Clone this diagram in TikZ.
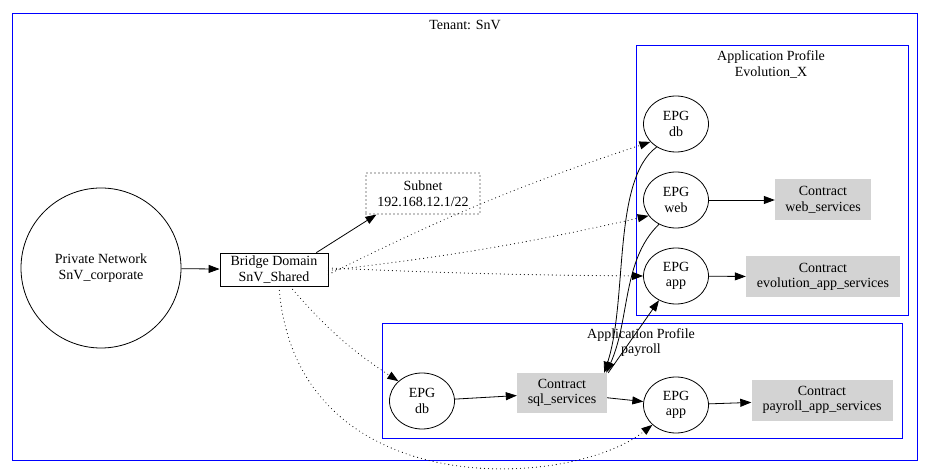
\documentclass[tikz,border=0pt]{standalone}
\usepackage{fontspec}
\setmainfont{Liberation Serif}
\usetikzlibrary{shapes.geometric,arrows.meta}
\definecolor{gvgray}{RGB}{211,211,211}
\begin{document}
\begin{tikzpicture}[x=1pt,y=-1pt,
  every node/.style={font=\fontsize{14}{15.5}\selectfont, align=center, inner sep=0pt},
  cluster/.style={draw=blue, line width=0.8pt, anchor=north west},
  epg/.style={ellipse, draw, line width=0.8pt, minimum width=65pt, minimum height=56pt},
  contract/.style={fill=gvgray, minimum height=41pt},
  boxnode/.style={draw, line width=0.8pt},
  arr/.style={line width=0.8pt, -{Triangle[length=11pt,width=8pt]}},
  darr/.style={arr, line cap=round, dash pattern=on 0pt off 4pt, line width=1.1pt}]
\useasboundingbox (0,0) rectangle (930,473);
% clusters
\node[cluster, minimum width=905pt, minimum height=447pt] (tenant) at (12,13) {};
\node (tenantlbl) at (465,25) {Tenant: SnV};
\node[cluster, minimum width=272pt, minimum height=270pt] (evo) at (636,45) {};
\node (evolbl) at (771,64.5) {Application Profile\\Evolution\_X};
\node[cluster, minimum width=520pt, minimum height=115pt] (pay) at (382,323) {};
\node (paylbl) at (641,342.5) {Application Profile\\payroll};
% nodes
\node[circle, draw, line width=0.8pt, minimum size=160pt] (priv) at (101,268) {Private Network\\SnV\_corporate};
\node[boxnode, minimum width=108pt, minimum height=33pt] (bd) at (274,269.5) {Bridge Domain\\SnV\_Shared};
\node[draw, line cap=round, dash pattern=on 0pt off 4pt, line width=1.1pt, minimum width=114pt, minimum height=41pt] (subnet) at (423,193.5) {Subnet\\192.168.12.1/22};
\node[epg] (evodb) at (676,124) {EPG\\db};
\node[epg] (evoweb) at (676,200) {EPG\\web};
\node[epg] (evoapp) at (676,276) {EPG\\app};
\node[contract, minimum width=96pt] (websvc) at (823,200) {Contract\\web\_services};
\node[contract, minimum width=154pt] (evoappsvc) at (823,277) {Contract\\evolution\_app\_services};
\node[epg] (paydb) at (422,401) {EPG\\db};
\node[contract, minimum width=90pt, minimum height=40pt] (sql) at (562,393) {Contract\\sql\_services};
\node[epg] (payapp) at (676,405) {EPG\\app};
\node[contract, minimum width=141pt] (payappsvc) at (822,400) {Contract\\payroll\_app\_services};
% edges
\draw[arr] (priv) -- (bd);
\draw[arr] ([xshift=-12pt]bd.north east) -- ([xshift=11pt]subnet.south west);
\draw[darr] ([yshift=-5pt]bd.east) to[bend left=4] (evodb.215);
\draw[darr] ([yshift=-1pt]bd.east) to[bend right=3] (evoweb.210);
\draw[darr] ([yshift=1.5pt]bd.east) to[bend right=1] (evoapp.west);
\draw[darr] ([xshift=16pt]bd.south) to[bend right=8] (paydb.140);
\draw[darr] ([xshift=5pt]bd.south) .. controls (295,505) and (570,490) .. (payapp.220);
\draw[arr] (paydb) -- (sql);
\draw[arr] (sql) -- (payapp);
\draw[arr] (payapp) -- (payappsvc);
\draw[arr] (evoweb) -- (websvc);
\draw[arr] (evoapp) -- (evoappsvc);
\draw[arr] (evodb.230) .. controls (612,180) and (628,300) .. ([xshift=-3pt]sql.north east);
\draw[arr] (evoweb.235) .. controls (622,260) and (630,320) .. ([xshift=-1pt]sql.north east);
\draw[arr] ([xshift=1pt]sql.north east) -- (evoapp.235);
\end{tikzpicture}
\end{document}
